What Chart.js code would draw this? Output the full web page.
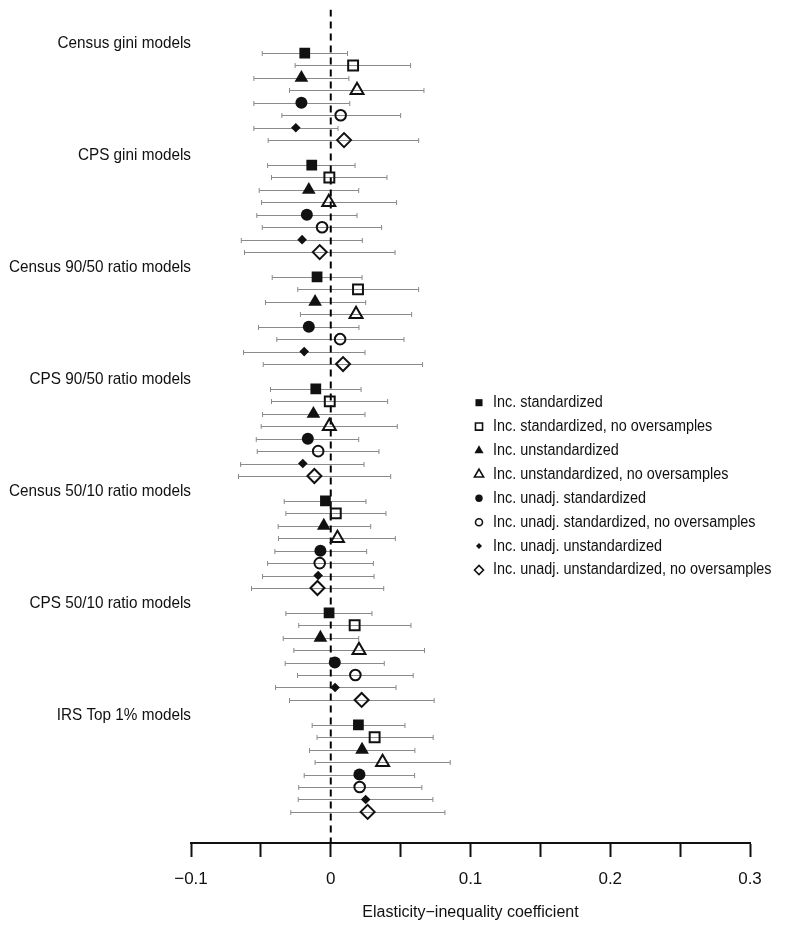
<!DOCTYPE html>
<html><head><meta charset="utf-8">
<script src="https://cdn.jsdelivr.net/npm/chart.js@4.4.1/dist/chart.umd.min.js"></script>
<style>html,body{margin:0;padding:0;background:#fff}#wrap{width:800px;height:926px;position:relative}</style>
</head><body><div id="wrap"><canvas id="c" width="800" height="926"></canvas></div>
<script>
// ---------- DATA ----------
const groupLabels = ['Census gini models','CPS gini models','Census 90/50 ratio models','CPS 90/50 ratio models','Census 50/10 ratio models','CPS 50/10 ratio models','IRS Top 1% models'];
const seriesNames = ['Inc. standardized','Inc. standardized, no oversamples','Inc. unstandardized','Inc. unstandardized, no oversamples','Inc. unadj. standardized','Inc. unadj. standardized, no oversamples','Inc. unadj. unstandardized','Inc. unadj. unstandardized, no oversamples'];
const tickValues = [-0.1,-0.05,0,0.05,0.1,0.15,0.2,0.25,0.3];
const tickLabels = ['\u22120.1','','0','','0.1','','0.2','','0.3'];
const xAxisTitle = 'Elasticity\u2212inequality coefficient';

// estimates (one value per group, in groupLabels order)
const incStd        = [-0.0186,-0.0136,-0.0098,-0.0107,-0.0038,-0.0012,0.0198];
const incStdLo      = [-0.049,-0.0452,-0.0419,-0.0431,-0.0333,-0.0321,-0.0133];
const incStdHi      = [0.012,0.0174,0.0224,0.0217,0.0252,0.0295,0.0531];
const incStdNo      = [0.016,-0.001,0.0195,-0.0007,0.0036,0.0171,0.0314];
const incStdNoLo    = [-0.0255,-0.0424,-0.0236,-0.0424,-0.0321,-0.0229,-0.0098];
const incStdNoHi    = [0.0571,0.0402,0.0629,0.0407,0.0395,0.0574,0.0733];
const incUns        = [-0.021,-0.0157,-0.0112,-0.0124,-0.005,-0.0074,0.0224];
const incUnsLo      = [-0.055,-0.0512,-0.0467,-0.0488,-0.0376,-0.034,-0.0152];
const incUnsHi      = [0.013,0.02,0.025,0.0245,0.0286,0.02,0.0602];
const incUnsNo      = [0.0188,-0.0014,0.0181,-0.001,0.0048,0.0202,0.0371];
const incUnsNoLo    = [-0.0295,-0.0495,-0.0217,-0.0498,-0.0374,-0.0264,-0.0112];
const incUnsNoHi    = [0.0667,0.0471,0.0579,0.0476,0.0462,0.0671,0.0855];
const unadjStd      = [-0.021,-0.0171,-0.0157,-0.0164,-0.0074,0.0029,0.0205];
const unadjStdLo    = [-0.055,-0.0529,-0.0517,-0.0533,-0.04,-0.0326,-0.019];
const unadjStdHi    = [0.0136,0.0188,0.0202,0.02,0.0257,0.0383,0.06];
const unadjStdNo    = [0.0071,-0.0062,0.0067,-0.009,-0.0079,0.0176,0.0207];
const unadjStdNoLo  = [-0.035,-0.049,-0.0386,-0.0526,-0.0452,-0.0238,-0.0229];
const unadjStdNoHi  = [0.05,0.0364,0.0524,0.0345,0.0305,0.059,0.0652];
const unadjUns      = [-0.025,-0.0205,-0.019,-0.02,-0.009,0.0031,0.025];
const unadjUnsLo    = [-0.055,-0.064,-0.0624,-0.0645,-0.0488,-0.0395,-0.0233];
const unadjUnsHi    = [0.0052,0.0226,0.0245,0.0238,0.031,0.0467,0.0731];
const unadjUnsNo    = [0.0095,-0.0079,0.0088,-0.0117,-0.0095,0.0221,0.0264];
const unadjUnsNoLo  = [-0.0448,-0.0617,-0.0483,-0.066,-0.0567,-0.0295,-0.0286];
const unadjUnsNoHi  = [0.0629,0.046,0.0657,0.0429,0.0379,0.074,0.0817];

const seriesEst = [incStd,incStdNo,incUns,incUnsNo,unadjStd,unadjStdNo,unadjUns,unadjUnsNo];
const seriesLo  = [incStdLo,incStdNoLo,incUnsLo,incUnsNoLo,unadjStdLo,unadjStdNoLo,unadjUnsLo,unadjUnsNoLo];
const seriesHi  = [incStdHi,incStdNoHi,incUnsHi,incUnsNoHi,unadjStdHi,unadjStdNoHi,unadjUnsHi,unadjUnsNoHi];

// ---------- STYLE ----------
const markerStyles = [
  {ps:'rect', fill:true,  r:7.6, lr:5},
  {ps:'rect', fill:false, r:7,   lr:5},
  {ps:'triangle', fill:true,  r:7.9, lr:5.3},
  {ps:'triangle', fill:false, r:7.5, lr:5.3},
  {ps:'circle', fill:true,  r:6,   lr:3.7},
  {ps:'circle', fill:false, r:5.3, lr:3.5},
  {ps:'rectRot', fill:true,  r:4.8, lr:3},
  {ps:'rectRot', fill:false, r:7,   lr:4.5}
];
const labelRight = 191;
const FONT = '"Liberation Sans", Arial, Helvetica, sans-serif';
const slotsPerGroup = 9;

const datasets = [{
  type:'scatter', label:'zero', data:[{x:0,y:-3.5},{x:0,y:63.5}], showLine:true,
  borderColor:'#000', borderWidth:2, borderDash:[7,5], pointRadius:0, order:10
}];
seriesEst.forEach((est,s)=>{
  const st = markerStyles[s];
  datasets.push({
    type:'scatter', label:seriesNames[s],
    data: est.map((v,g)=>({x:v, y:g*slotsPerGroup+s})),
    pointStyle: st.ps, pointRadius: st.r,
    backgroundColor: st.fill ? '#111' : 'rgba(0,0,0,0)',
    borderColor:'#111', borderWidth: st.fill ? 0 : 2, order:0
  });
});

const errorBars = {
  id:'errorBars',
  beforeDatasetsDraw(chart){
    const {ctx, scales:{x,y}} = chart;
    ctx.save(); ctx.strokeStyle='#8a8a8a'; ctx.lineWidth=1;
    seriesLo.forEach((los,s)=>{
      los.forEach((lo,g)=>{
        const hi = seriesHi[s][g];
        const py = Math.round(y.getPixelForValue(g*slotsPerGroup+s))+0.5;
        const x1 = x.getPixelForValue(lo), x2 = x.getPixelForValue(hi);
        ctx.beginPath();
        ctx.moveTo(x1,py); ctx.lineTo(x2,py);
        ctx.moveTo(x1,py-2.5); ctx.lineTo(x1,py+2.5);
        ctx.moveTo(x2,py-2.5); ctx.lineTo(x2,py+2.5);
        ctx.stroke();
      });
    });
    ctx.restore();
  }
};

function drawMarker(ctx, st, r, x, y){
  const H = Chart.helpers;
  ctx.fillStyle = st.fill ? '#111' : 'rgba(0,0,0,0)';
  ctx.strokeStyle = '#111';
  ctx.lineWidth = st.fill ? 0 : 1.6;
  if (H && H.drawPoint) {
    H.drawPoint(ctx, {pointStyle:st.ps, radius:r, rotation:0, borderWidth: st.fill?0:1.6}, x, y);
  }
}

const textPlugin = {
  id:'textPlugin',
  afterDraw(chart){
    const {ctx, scales:{y}} = chart;
    ctx.save();
    ctx.fillStyle = '#111';
    ctx.textBaseline = 'middle';
    ctx.font = '17px ' + FONT;
    ctx.textAlign = 'right';
    groupLabels.forEach((t,g)=>{
      const py = y.getPixelForValue(g*slotsPerGroup - 0.75);
      ctx.save(); ctx.translate(labelRight, py); ctx.scale(0.9,1); ctx.fillText(t,0,0); ctx.restore();
    });
    // legend
    ctx.textAlign = 'left';
    ctx.font = '16px ' + FONT;
    seriesNames.forEach((t,s)=>{
      const py = 402.7 + s*23.9;
      drawMarker(ctx, markerStyles[s], markerStyles[s].lr, 479, py);
      ctx.fillStyle = '#111';
      ctx.save(); ctx.translate(493, py); ctx.scale(0.9,1); ctx.fillText(t,0,0); ctx.restore();
    });
    ctx.restore();
  }
};

new Chart(document.getElementById('c'), {
  type:'scatter',
  data:{datasets},
  options:{
    responsive:false, animation:false, devicePixelRatio:1,
    layout:{padding:{left:191, right:50, top:8, bottom:0}},
    plugins:{legend:{display:false}, tooltip:{enabled:false}},
    scales:{
      x:{
        type:'linear', min:-0.1, max:0.3,
        afterBuildTicks(s){ s.ticks = tickValues.map(v=>({value:v})); },
        afterFit(s){ s.height = 83; },
        grid:{display:true, drawOnChartArea:false, drawTicks:true, tickLength:14, tickColor:'#111', tickWidth:2},
        border:{display:true, color:'#111', width:2},
        ticks:{autoSkip:false, maxRotation:0, padding:12, color:'#111', font:{family:FONT, size:17},
          callback:(v,i)=>tickLabels[i]},
        title:{display:true, text:xAxisTitle, color:'#111', font:{family:FONT, size:16}, padding:{top:4,bottom:4}}
      },
      y:{type:'linear', display:false, reverse:true, min:-3.5, max:63.5}
    }
  },
  plugins:[errorBars, textPlugin]
});
</script>
</body></html>
